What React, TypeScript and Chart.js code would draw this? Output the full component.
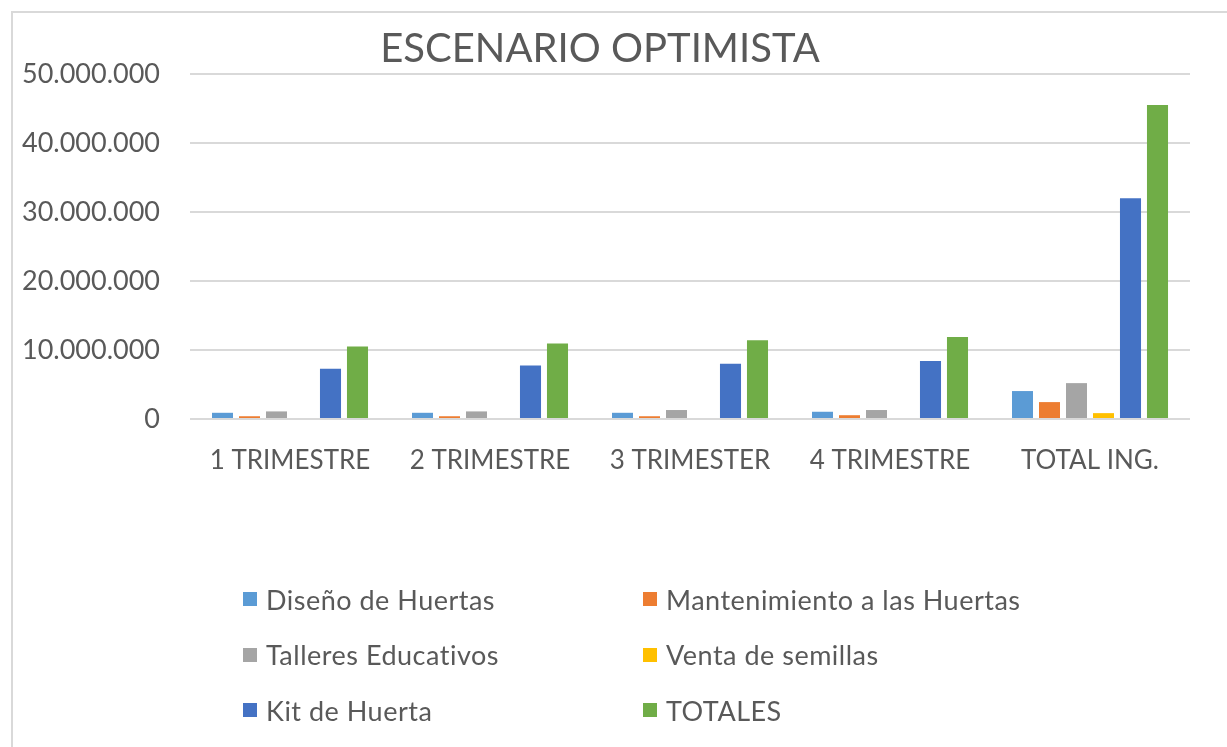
import React, { useEffect, useRef } from "react";
import { Chart, registerables } from "chart.js";

Chart.register(...registerables);

const title = "ESCENARIO OPTIMISTA";
const categories = ["1 TRIMESTRE", "2 TRIMESTRE", "3 TRIMESTER", "4 TRIMESTRE", "TOTAL ING."];
const seriesNames = [
  "Diseño de Huertas",
  "Mantenimiento a las Huertas",
  "Talleres Educativos",
  "Venta de semillas",
  "Kit de Huerta",
  "TOTALES",
];
const diseno = [900000, 900000, 900000, 1050000, 4050000];
const mantenimiento = [400000, 400000, 400000, 550000, 2450000];
const talleres = [1100000, 1100000, 1300000, 1300000, 5200000];
const venta = [0, 0, 0, 0, 850000];
const kit = [7300000, 7750000, 8000000, 8400000, 32000000];
const totales = [10500000, 10950000, 11400000, 11900000, 45500000];
const seriesValues = [diseno, mantenimiento, talleres, venta, kit, totales];
const seriesColors = ["#5B9BD5", "#ED7D31", "#A5A5A5", "#FFC000", "#4472C4", "#70AD47"];
const yMin = 0;
const yMax = 50000000;
const yStep = 10000000;

const FONT = "Lato, 'Open Sans', sans-serif";
const TEXT = "#595959";

function fmt(v: number): string {
  const s = Math.round(v).toString();
  return s.replace(/\B(?=(\d{3})+(?!\d))/g, ".");
}

export default function App() {
  const ref = useRef<HTMLCanvasElement | null>(null);

  useEffect(() => {
    if (!ref.current) return;
    const chart = new Chart(ref.current, {
      type: "bar",
      data: {
        labels: categories,
        datasets: seriesNames.map((name, i) => ({
          label: name,
          data: seriesValues[i],
          backgroundColor: seriesColors[i],
          borderWidth: 0,
          categoryPercentage: 0.81,
          barPercentage: 0.78,
        })),
      },
      options: {
        animation: false,
        responsive: false,
        maintainAspectRatio: false,
        layout: { padding: { left: 0, right: 37, top: 74, bottom: 268 } },
        plugins: {
          legend: { display: false },
          title: { display: false },
          tooltip: { enabled: false },
        },
        scales: {
          x: {
            grid: { display: false },
            border: { display: false },
            ticks: {
              color: TEXT,
              font: { family: FONT, size: 26 },
              padding: 18,
              maxRotation: 0,
              autoSkip: false,
            },
            afterFit: (s: any) => {
              s.height = 60;
            },
          },
          y: {
            min: yMin,
            max: yMax,
            border: { display: false },
            grid: { color: "#d9d9d9", lineWidth: 2, drawTicks: false },
            ticks: {
              stepSize: yStep,
              color: TEXT,
              font: { family: FONT, size: 27 },
              padding: 30,
              callback: (v: any) => fmt(Number(v)),
            },
            afterFit: (s: any) => {
              s.width = 190;
            },
          },
        },
      },
    });
    return () => chart.destroy();
  }, []);

  const rows = [
    [0, 1],
    [2, 3],
    [4, 5],
  ];

  return (
    <div
      style={{
        position: "fixed",
        left: 0,
        top: 0,
        width: 1227,
        height: 747,
        background: "#fff",
        overflow: "hidden",
        fontFamily: FONT,
      }}
    >
      <div
        style={{
          position: "absolute",
          left: 11,
          top: 11,
          width: 1400,
          height: 900,
          border: "2px solid #d9d9d9",
          boxSizing: "border-box",
        }}
      />
      <canvas
        ref={ref}
        width={1227}
        height={747}
        style={{ position: "absolute", left: 0, top: 0, width: 1227, height: 747 }}
      />
      <div
        style={{
          position: "absolute",
          left: 0,
          width: 1200,
          top: 22,
          textAlign: "center",
          color: TEXT,
          fontSize: 40,
          lineHeight: "50px",
          whiteSpace: "nowrap",
        }}
      >
        {title}
      </div>
      {rows.map((row, r) =>
        row.map((idx, c) => (
          <div
            key={idx}
            style={{
              position: "absolute",
              left: c === 0 ? 243 : 643,
              top: 600 + r * 55.5 - 17,
              height: 32,
              display: "flex",
              alignItems: "center",
              whiteSpace: "nowrap",
              color: TEXT,
              fontSize: 27,
              letterSpacing: 0.5,
            }}
          >
            <span
              style={{
                display: "inline-block",
                width: 14,
                height: 14,
                background: seriesColors[idx],
                marginRight: 9,
              }}
            />
            <span>{seriesNames[idx]}</span>
          </div>
        ))
      )}
    </div>
  );
}
